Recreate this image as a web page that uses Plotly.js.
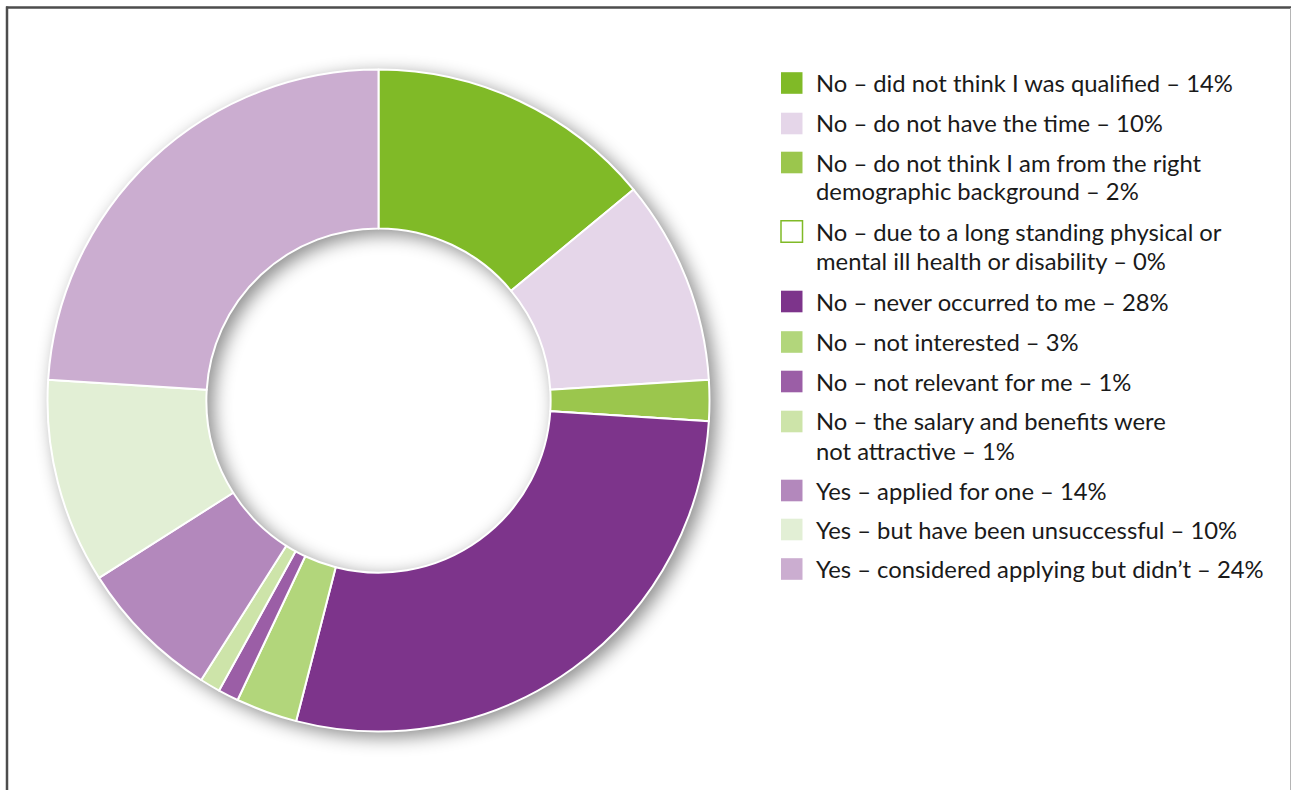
<!DOCTYPE html>
<html>
<head>
<meta charset="utf-8">
<script src="https://cdn.plot.ly/plotly-3.0.1.min.js"></script>
<style>
html, body { margin: 0; padding: 0; background: #ffffff; }
#chart { width: 1292px; height: 790px; }
.pielayer { filter: drop-shadow(6px 5px 9px rgba(0,0,0,0.45)); }
</style>
</head>
<body>
<div id="chart"></div>
<script>
// Data
var categories = [
  "No – did not think I was qualified – 14%",
  "No – do not have the time – 10%",
  "No – do not think I am from the right<br>demographic background – 2%",
  "No – due to a long standing physical or<br>mental ill health or disability – 0%",
  "No – never occurred to me – 28%",
  "No – not interested – 3%",
  "No – not relevant for me – 1%",
  "No – the salary and benefits were<br>not attractive – 1%",
  "Yes – applied for one – 14%",
  "Yes – but have been unsuccessful – 10%",
  "Yes – considered applying but didn’t – 24%"
];
// slice sizes as drawn in the picture
var values = [14, 10, 2, 0, 28, 3, 1, 1, 7, 10, 24];
var colors = ["#80ba27", "#e5d6e9", "#9bc64d", "#ffffff", "#7d348b", "#b2d67b",
              "#9b5ea6", "#cde4a9", "#b388bc", "#e2efd5", "#cbadd0"];
var swatchLines = ["#80ba27", "#e5d6e9", "#9bc64d", "#80ba27", "#7d348b", "#b2d67b",
                   "#9b5ea6", "#cde4a9", "#b388bc", "#e2efd5", "#cbadd0"];

var W = 1292, H = 790;
function px(x) { return x / W; }
function py(y) { return 1 - y / H; }

var trace = {
  type: "pie",
  labels: categories,
  values: values,
  sort: false,
  direction: "clockwise",
  rotation: 0,
  hole: 0.52,
  textinfo: "none",
  hoverinfo: "label",
  showlegend: false,
  marker: { colors: colors, line: { color: "#ffffff", width: 2 } },
  domain: { x: [px(47.5), px(709.5)], y: [py(731.5), py(69.5)] }
};

var shapes = [
  { type: "line", xref: "paper", yref: "paper", x0: px(6), x1: px(1291), y0: py(7.5), y1: py(7.5),
    line: { color: "#4d4d4d", width: 2.5 } },
  { type: "line", xref: "paper", yref: "paper", x0: px(7), x1: px(7), y0: py(6.5), y1: py(792),
    line: { color: "#4d4d4d", width: 2.5 } },
  { type: "line", xref: "paper", yref: "paper", x0: px(1290.5), x1: px(1290.5), y0: py(8), y1: py(792),
    line: { color: "#b5b5b5", width: 1 } }
];
var annotations = [];
var itemY = [83, 123.5, 162.5, 231.5, 301.5, 342, 381.5, 421.5, 490.5, 529.5, 569];
var lineGap = 29;
for (var i = 0; i < categories.length; i++) {
  var cy = itemY[i];
  shapes.push({
    type: "rect", xref: "paper", yref: "paper",
    x0: px(781), x1: px(802.5), y0: py(cy + 10.8), y1: py(cy - 10.8),
    fillcolor: colors[i], line: { color: swatchLines[i], width: i === 3 ? 1.5 : 0 }
  });
  var parts = categories[i].split("<br>");
  for (var j = 0; j < parts.length; j++) {
    annotations.push({
      xref: "paper", yref: "paper", x: px(813.5), y: py(cy + j * lineGap),
      xanchor: "left", yanchor: "middle", showarrow: false, align: "left",
      text: parts[j],
      font: { family: "Lato, 'Open Sans', sans-serif", size: 23.8, color: "#1a1a1a" }
    });
  }
}

var layout = {
  width: W, height: H,
  margin: { l: 0, r: 0, t: 0, b: 0 },
  paper_bgcolor: "#ffffff",
  showlegend: false,
  shapes: shapes,
  annotations: annotations
};

Plotly.newPlot("chart", [trace], layout, { displayModeBar: false, staticPlot: true });
</script>
</body>
</html>
